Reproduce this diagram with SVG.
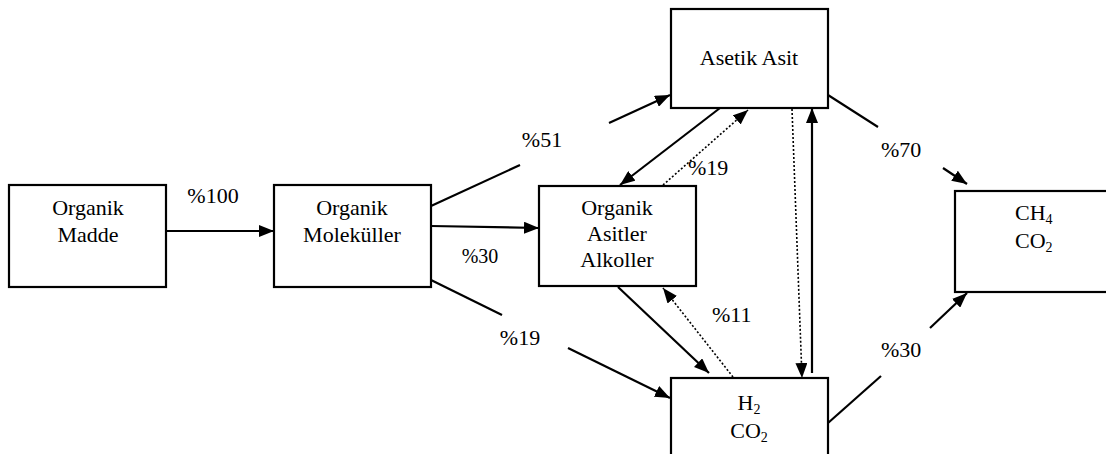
<svg xmlns="http://www.w3.org/2000/svg" width="1106" height="454" viewBox="0 0 1106 454">
<style>
.box{fill:#fff;stroke:#000;stroke-width:2.2}
.t{font-family:"Liberation Serif","Times New Roman",serif;font-size:22px;fill:#000}
.c{text-anchor:middle}
.s{font-size:20px}
.sub{font-size:14px}
.ln{fill:none;stroke:#000;stroke-width:2.2}
.dt{fill:none;stroke:#000;stroke-width:1.6;stroke-dasharray:2,2}
</style>
<defs>
<marker id="ah" markerUnits="userSpaceOnUse" markerWidth="15" markerHeight="12" refX="15" refY="6" orient="auto">
<path d="M0,0 L15,6 L0,12 z" fill="#000"/>
</marker>
</defs>
<rect width="1106" height="454" fill="#fff"/>
<g id="connectors">
<line class="ln" x1="166" y1="231" x2="274" y2="231" marker-end="url(#ah)"/>
<line class="ln" x1="431" y1="206" x2="520" y2="165"/>
<line class="ln" x1="609" y1="123" x2="670" y2="95" marker-end="url(#ah)"/>
<line class="ln" x1="431" y1="226" x2="539" y2="228" marker-end="url(#ah)"/>
<line class="ln" x1="431" y1="280" x2="502" y2="315"/>
<line class="ln" x1="568" y1="348" x2="670" y2="398" marker-end="url(#ah)"/>
<line class="ln" x1="720" y1="108" x2="620" y2="185" marker-end="url(#ah)"/>
<line class="dt" x1="663" y1="185" x2="748" y2="110" marker-end="url(#ah)"/>
<line class="dt" x1="792" y1="109" x2="802" y2="378" marker-end="url(#ah)"/>
<line class="ln" x1="812" y1="373" x2="812" y2="108" marker-end="url(#ah)"/>
<line class="ln" x1="618" y1="287" x2="709" y2="373" marker-end="url(#ah)"/>
<line class="dt" x1="733" y1="377" x2="663" y2="288" marker-end="url(#ah)"/>
<line class="ln" x1="828" y1="95" x2="878" y2="127"/>
<line class="ln" x1="943" y1="168" x2="967" y2="184" marker-end="url(#ah)"/>
<line class="ln" x1="828" y1="423" x2="881" y2="376"/>
<line class="ln" x1="930" y1="328" x2="967" y2="293" marker-end="url(#ah)"/>
</g>
<g id="labels">
<text class="t c" x="213" y="203">%100</text>
<text class="t c" x="542" y="147">%51</text>
<text class="t c s" x="480" y="263">%30</text>
<text class="t c" x="520" y="345">%19</text>
<text class="t" x="688" y="175">%19</text>
<text class="t" x="712" y="322">%11</text>
<text class="t" x="881" y="157">%70</text>
<text class="t" x="881" y="357">%30</text>
</g>
<g id="organik-madde">
<rect class="box" x="9" y="185" width="157" height="102"/>
<text class="t c" x="88" y="215">Organik</text>
<text class="t c" x="88" y="242">Madde</text>
</g>
<g id="organik-molekuller">
<rect class="box" x="274" y="185" width="157" height="102"/>
<text class="t c" x="352" y="215">Organik</text>
<text class="t c" x="352" y="242">Moleküller</text>
</g>
<g id="organik-asitler">
<rect class="box" x="539" y="186" width="157" height="100"/>
<text class="t c" x="617" y="215">Organik</text>
<text class="t c" x="617" y="241">Asitler</text>
<text class="t c" x="617" y="267">Alkoller</text>
</g>
<g id="asetik-asit">
<rect class="box" x="671" y="9" width="157" height="99"/>
<text class="t c" x="749" y="65">Asetik Asit</text>
</g>
<g id="h2-co2">
<rect class="box" x="671" y="378" width="157" height="80"/>
<text class="t c" x="749" y="410">H<tspan class="sub" dy="4">2</tspan></text>
<text class="t c" x="749" y="438">CO<tspan class="sub" dy="4">2</tspan></text>
</g>
<g id="ch4-co2">
<rect class="box" x="955" y="191" width="160" height="101"/>
<text class="t" x="1015" y="220">CH<tspan class="sub" dy="4">4</tspan></text>
<text class="t" x="1015" y="248">CO<tspan class="sub" dy="4">2</tspan></text>
</g>
</svg>
